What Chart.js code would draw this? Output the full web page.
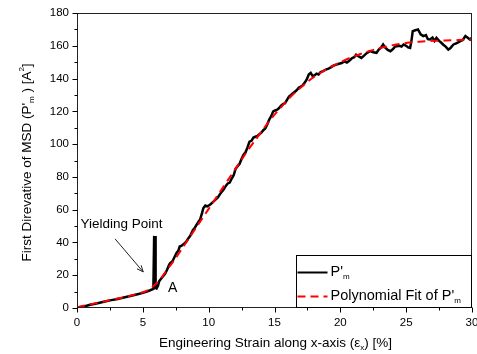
<!DOCTYPE html>
<html>
<head>
<meta charset="utf-8">
<script src="https://cdn.jsdelivr.net/npm/chart.js@4"></script>
<style>
html,body{margin:0;padding:0;background:#fff;}
canvas{display:block;}
</style>
</head>
<body>
<canvas id="c" width="477" height="354"></canvas>
<script>
// ---- Data ----
const strainX = [0,0.3,0.6,1.0,1.4,1.8,2.2,2.6,3.0,3.4,3.8,4.2,4.6,5.0,5.3,5.6,5.8,5.86,5.9,5.93,5.97,6.05,6.15,6.25,6.4,6.55,6.7,6.85,7.0,7.1,7.25,7.4,7.55,7.7,7.8,7.95,8.1,8.3,8.45,8.6,8.8,8.95,9.1,9.25,9.35,9.5,9.6,9.75,9.9,10.1,10.3,10.5,10.7,10.86,11.0,11.15,11.3,11.45,11.6,11.75,11.9,12.05,12.2,12.35,12.5,12.65,12.8,12.95,13.1,13.25,13.4,13.55,13.7,13.85,14.0,14.15,14.3,14.45,14.6,14.75,14.9,15.05,15.2,15.35,15.5,15.65,15.8,15.95,16.1,16.25,16.4,16.55,16.7,16.85,17.0,17.15,17.3,17.45,17.6,17.75,17.9,18.05,18.2,18.35,18.5,18.7,18.9,19.1,19.3,19.5,19.7,19.9,20.1,20.3,20.5,20.7,20.9,21.05,21.2,21.4,21.6,21.8,22.0,22.25,22.5,22.75,22.9,23.1,23.25,23.4,23.6,23.8,24.0,24.15,24.3,24.5,24.65,24.8,25.0,25.15,25.3,25.4,25.5,25.7,25.9,26.1,26.3,26.5,26.65,26.8,27.0,27.15,27.3,27.5,27.65,27.8,28.0,28.2,28.35,28.45,28.6,28.8,28.95,29.1,29.3,29.5,29.65,29.85,30.0];
const pmY = [0,0.6,1.1,2.0,2.6,3.4,4.1,4.8,5.4,6.1,6.9,7.6,8.4,9.2,10.0,11.0,11.6,44,11.5,44,12.5,12.0,13.5,16.5,18,19.5,21,23.5,26.5,27.5,28.5,31,33.5,35,37.5,38,39,40.5,42.5,44,47.5,49,51,53,54,58,61,62.5,62,63,64.5,66,67.5,69.5,71,72.5,74.5,76,76.5,79,81,85,86.5,88,91,93.5,95,98,101.5,102,104,104.5,105,106,107,108.5,109.5,112,115,117,120,120.5,121,122,123.5,124.5,125,127,129,130,131,132,133,134.5,135,136,137.5,139.5,142.5,143.5,141.5,142,143,142.5,144,144.5,145.5,146,147,148,148.5,149,149.5,150.5,149.8,151,152.5,153,154.6,153.5,152.6,154,155.5,156.7,156,155.7,157.5,159,160.8,159,157.5,156.7,158,159.5,159.7,160,159.5,160.8,160,159,158.7,163,168.9,169.5,170,167,165.9,166.5,164,163.8,165,163,164.9,163,162,160.8,159.5,157.7,158.5,159.5,160.8,161.5,162,162.8,163.5,165.9,165,163.8,165];
const fitX = [0,1,2,3,4,5,5.5,6,6.5,7,7.5,8,8.5,9,9.5,10,10.5,11,11.5,12,12.5,13,13.5,14,14.5,15,15.5,16,16.5,17,17.5,18,18.5,19,19.5,20,21,22,23,24,25,26,27,28,29,30];
const fitY = [0.5,2.2,3.9,5.6,7.4,9.6,11.5,14.8,19.5,25,30.5,36.5,42.5,48.5,54.5,60.5,66.5,72.5,78.5,84.5,90.5,96.5,102,107.5,113,118,122.5,127,131,134.5,138,141,143.5,146,148,150,153.5,156.3,158.6,160.4,161.7,162.5,163,163.2,163.5,164];
const xTickValues = [0,5,10,15,20,25,30];
const xMinorValues = [2.5,7.5,12.5,17.5,22.5,27.5];
const yTickValues = [0,20,40,60,80,100,120,140,160,180];
const yMinorValues = [10,30,50,70,90,110,130,150,170];
const seriesNames = [["P'","m"],["Polynomial Fit of P'","m"]];
const annotation = {text:"Yielding Point", tx:3.38, ty:51.3, ax0:2.89, ay0:42.2, ax1:5.03, ay1:22.0, label:"A", lx:6.91, ly:12.2};

const FONT = "'Liberation Sans', Arial, sans-serif";

function richWidth(ctx, parts, size, small){
  let w = 0;
  for (const p of parts){
    ctx.font = (p.s ? small : size) + "px " + FONT;
    w += ctx.measureText(p.t).width;
  }
  return w;
}
function drawRich(ctx, parts, x, y, size, small){
  let cx = x;
  ctx.textBaseline = 'middle';
  ctx.textAlign = 'left';
  for (const p of parts){
    ctx.font = (p.s ? small : size) + "px " + FONT;
    const dy = p.s === 'sub' ? 5 : (p.s === 'sup' ? -5 : 0);
    ctx.fillText(p.t, cx, y + dy);
    cx += ctx.measureText(p.t).width;
  }
}

const decorPlugin = {
  id: 'decor',
  afterDatasetsDraw(chart){
    const {ctx, chartArea:a, scales} = chart;
    const xs = scales.x, ys = scales.y;
    ctx.save();
    ctx.fillStyle = '#000';
    ctx.lineWidth = 1;
    const L = Math.round(a.left)+0.5, R = Math.round(a.right)-0.5, T = Math.round(a.top)+0.5, B = Math.round(a.bottom)-0.5;
    ctx.strokeStyle = '#222';
    ctx.strokeRect(L, T, R-L, B-T);
    ctx.strokeStyle = '#000';
    ctx.beginPath();
    xTickValues.forEach(v => { const p = Math.round(xs.getPixelForValue(v))+0.5; ctx.moveTo(p, B); ctx.lineTo(p, B+5); });
    xMinorValues.forEach(v => { const p = Math.round(xs.getPixelForValue(v))+0.5; ctx.moveTo(p, B); ctx.lineTo(p, B+3); });
    yTickValues.forEach(v => { const p = Math.round(ys.getPixelForValue(v))+0.5; ctx.moveTo(L, p); ctx.lineTo(L-5, p); });
    yMinorValues.forEach(v => { const p = Math.round(ys.getPixelForValue(v))+0.5; ctx.moveTo(L, p); ctx.lineTo(L-3, p); });
    ctx.stroke();

    // axis titles
    const yTitle = [{t:"First Direvative of MSD (P'"},{t:"m",s:'sub'},{t:" ) [A"},{t:"2",s:'sup'},{t:"]"}];
    const yw = richWidth(ctx, yTitle, 13.5, 8);
    ctx.save();
    ctx.translate(27, (a.top + a.bottom)/2 + 2);
    ctx.rotate(-Math.PI/2);
    drawRich(ctx, yTitle, -yw/2, 0, 13.5, 8);
    ctx.restore();
    const xTitle = [{t:"Engineering Strain along x-axis (\u03b5"},{t:"x",s:'sub'},{t:") [%]"}];
    const xw = richWidth(ctx, xTitle, 13.5, 8);
    drawRich(ctx, xTitle, (a.left + a.right)/2 - xw/2 + 1, 343, 13.5, 8);

    // annotation
    ctx.font = "13.5px " + FONT;
    ctx.textAlign = 'center';
    ctx.textBaseline = 'middle';
    ctx.fillText(annotation.text, xs.getPixelForValue(annotation.tx), ys.getPixelForValue(annotation.ty));
    const x0 = xs.getPixelForValue(annotation.ax0), y0 = ys.getPixelForValue(annotation.ay0);
    const x1 = xs.getPixelForValue(annotation.ax1), y1 = ys.getPixelForValue(annotation.ay1);
    ctx.lineWidth = 1;
    ctx.strokeStyle = '#222';
    ctx.beginPath();
    ctx.moveTo(x0, y0); ctx.lineTo(x1, y1);
    const ang = Math.atan2(y1-y0, x1-x0);
    ctx.moveTo(x1, y1); ctx.lineTo(x1 - 7*Math.cos(ang-0.4), y1 - 7*Math.sin(ang-0.4));
    ctx.moveTo(x1, y1); ctx.lineTo(x1 - 7*Math.cos(ang+0.4), y1 - 7*Math.sin(ang+0.4));
    ctx.stroke();
    ctx.textAlign = 'left';
    ctx.font = "14px " + FONT;
    ctx.fillText(annotation.label, xs.getPixelForValue(annotation.lx), ys.getPixelForValue(annotation.ly));

    // legend
    const lw = 175, lh = 52;
    const lx = R - lw, ly = B - lh;
    ctx.fillStyle = '#fff';
    ctx.fillRect(lx, ly, lw, lh);
    ctx.strokeStyle = '#000';
    ctx.lineWidth = 1;
    ctx.strokeRect(lx, ly, lw, lh);
    const dsets = chart.data.datasets;
    const rows = [ly + 17, ly + 41];
    [1, 0].forEach((di, row) => {
      const ds = dsets[di];
      ctx.save();
      ctx.strokeStyle = ds.borderColor;
      ctx.lineWidth = 2;
      ctx.setLineDash(ds.borderDash || []);
      ctx.beginPath();
      ctx.moveTo(lx + 1, rows[row]); ctx.lineTo(lx + 31, rows[row]);
      ctx.stroke();
      ctx.restore();
      ctx.fillStyle = '#000';
      const nm = seriesNames[row];
      drawRich(ctx, [{t:nm[0]},{t:nm[1],s:'sub'}], lx + 34, rows[row] - 1, 14.5, 8);
    });
    ctx.restore();
  }
};

new Chart(document.getElementById('c'), {
  type: 'line',
  data: {
    datasets: [
      {
        label: "Polynomial Fit of P'm",
        data: fitX.map((x,i)=>({x:x, y:fitY[i]})),
        borderColor: '#ff0000',
        borderWidth: 2,
        borderDash: [8,5],
        pointRadius: 0,
        tension: 0.3,
        fill: false,
        order: 0
      },
      {
        label: "P'm",
        data: strainX.map((x,i)=>({x:x, y:pmY[i]})),
        borderColor: '#000000',
        borderWidth: 2.5,
        pointRadius: 0,
        tension: 0,
        fill: false,
        order: 1
      }
    ]
  },
  options: {
    responsive: false,
    animation: false,
    devicePixelRatio: 1,
    layout: { padding: { top: 13, right: 5, left: 0, bottom: 0 } },
    plugins: { legend: { display: false }, tooltip: { enabled: false } },
    scales: {
      x: {
        type: 'linear', min: 0, max: 30,
        afterBuildTicks: s => { s.ticks = xTickValues.map(v => ({value: v})); },
        afterFit: s => { s.height = 46; s.paddingLeft = 0; s.paddingRight = 0; },
        border: { display: false },
        grid: { drawOnChartArea: false, drawTicks: true, tickLength: 5, color: 'rgba(0,0,0,0)' },
        ticks: { padding: 3, maxRotation: 0, color: '#000', font: { family: FONT, size: 11.5 } }
      },
      y: {
        type: 'linear', min: 0, max: 180,
        afterBuildTicks: s => { s.ticks = yTickValues.map(v => ({value: v})); },
        afterFit: s => { s.width = 77; },
        border: { display: false },
        grid: { drawOnChartArea: false, drawTicks: true, tickLength: 5, color: 'rgba(0,0,0,0)' },
        ticks: { padding: 3, color: '#000', font: { family: FONT, size: 11.5 } }
      }
    }
  },
  plugins: [decorPlugin]
});
</script>
</body>
</html>
